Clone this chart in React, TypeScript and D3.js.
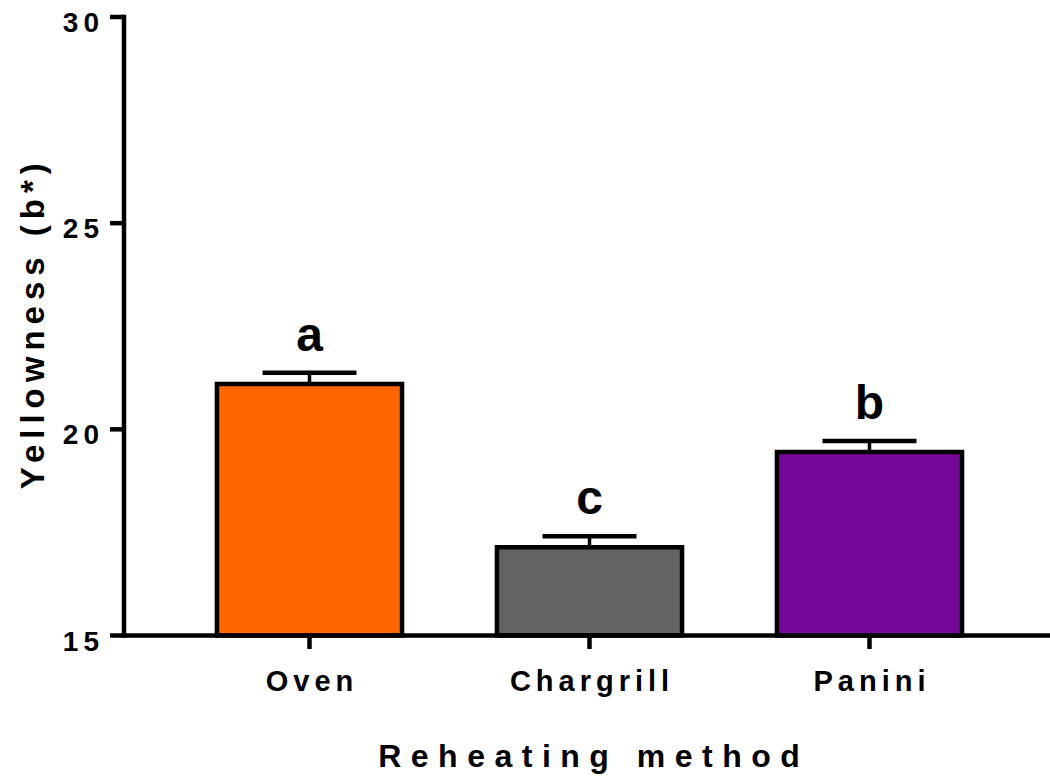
import React, { useEffect, useRef } from 'react';
import * as d3 from 'd3';

const categories = ['Oven', 'Chargrill', 'Panini'];
const means = [21.1, 17.14, 19.45];
const sems = [0.27, 0.27, 0.27];
const letters = ['a', 'c', 'b'];
const barColors = ['#FF6600', '#636363', '#76099A'];
const yTicks = [15, 20, 25, 30];

const FONT = "'Liberation Sans', Arial, sans-serif";

export default function App() {
  const ref = useRef<SVGSVGElement | null>(null);

  useEffect(() => {
    const width = 1050;
    const height = 784;
    const left = 124;
    const bottom = 635.5;
    const top = 17;

    const svg = d3.select(ref.current);
    svg.selectAll('*').remove();
    svg.attr('width', width).attr('height', height);

    const x = d3.scaleBand<string>()
      .domain(categories)
      .range([left, 1055])
      .paddingInner(0.339)
      .paddingOuter(0.332);

    const y = d3.scaleLinear().domain([15, 30]).range([bottom, top]);

    const data = categories.map((c, i) => ({
      name: c, mean: means[i], sem: sems[i], letter: letters[i], color: barColors[i]
    }));

    // bars
    svg.append('g')
      .selectAll('rect')
      .data(data)
      .enter()
      .append('rect')
      .attr('x', d => x(d.name)!)
      .attr('y', d => y(d.mean))
      .attr('width', x.bandwidth())
      .attr('height', d => y(15) - y(d.mean))
      .attr('fill', d => d.color)
      .attr('stroke', '#000')
      .attr('stroke-width', 4.5);

    // error bars (mean + SEM)
    const err = svg.append('g').selectAll('g').data(data).enter().append('g');
    err.append('line')
      .attr('x1', d => x(d.name)! + x.bandwidth() / 2)
      .attr('x2', d => x(d.name)! + x.bandwidth() / 2)
      .attr('y1', d => y(d.mean))
      .attr('y2', d => y(d.mean + d.sem))
      .attr('stroke', '#000')
      .attr('stroke-width', 3.5);
    err.append('line')
      .attr('x1', d => x(d.name)! + x.bandwidth() / 2 - 47)
      .attr('x2', d => x(d.name)! + x.bandwidth() / 2 + 47)
      .attr('y1', d => y(d.mean + d.sem))
      .attr('y2', d => y(d.mean + d.sem))
      .attr('stroke', '#000')
      .attr('stroke-width', 4.5);

    // significance letters
    svg.append('g')
      .selectAll('text')
      .data(data)
      .enter()
      .append('text')
      .attr('x', d => x(d.name)! + x.bandwidth() / 2)
      .attr('y', d => y(d.mean + d.sem) - 22)
      .attr('text-anchor', 'middle')
      .style('font-family', FONT)
      .style('font-weight', '700')
      .style('font-size', '48px')
      .text(d => d.letter);

    // y axis
    const ya = svg.append('g');
    ya.append('line')
      .attr('x1', left).attr('x2', left)
      .attr('y1', top - 2.25).attr('y2', bottom + 2.25)
      .attr('stroke', '#000').attr('stroke-width', 4.5);
    ya.selectAll('.tick')
      .data(yTicks)
      .enter()
      .append('line')
      .attr('x1', 110).attr('x2', left)
      .attr('y1', d => y(d)).attr('y2', d => y(d))
      .attr('stroke', '#000').attr('stroke-width', 4.5);
    ya.selectAll('text')
      .data(yTicks)
      .enter()
      .append('text')
      .attr('x', 104)
      .attr('y', d => y(d) + 15)
      .attr('text-anchor', 'end')
      .style('font-family', FONT)
      .style('font-weight', '700')
      .style('font-size', '28px')
      .style('letter-spacing', '5px')
      .text(d => d);

    // x axis
    const xa = svg.append('g');
    xa.append('line')
      .attr('x1', left).attr('x2', width)
      .attr('y1', bottom).attr('y2', bottom)
      .attr('stroke', '#000').attr('stroke-width', 4.5);
    xa.selectAll('.tick')
      .data(categories)
      .enter()
      .append('line')
      .attr('x1', d => x(d)! + x.bandwidth() / 2)
      .attr('x2', d => x(d)! + x.bandwidth() / 2)
      .attr('y1', bottom).attr('y2', 649)
      .attr('stroke', '#000').attr('stroke-width', 4.5);
    xa.selectAll('text')
      .data(categories)
      .enter()
      .append('text')
      .attr('x', d => x(d)! + x.bandwidth() / 2 + 2.5)
      .attr('y', 691)
      .attr('text-anchor', 'middle')
      .style('font-family', FONT)
      .style('font-weight', '700')
      .style('font-size', '29px')
      .style('letter-spacing', '5px')
      .text(d => d);

    // axis titles
    svg.append('text')
      .attr('x', 589 + 4.75)
      .attr('y', 767)
      .attr('text-anchor', 'middle')
      .style('font-family', FONT)
      .style('font-weight', '700')
      .style('font-size', '32px')
      .style('letter-spacing', '9.5px')
      .text('Reheating method');

    svg.append('text')
      .attr('transform', `translate(44,${(top + bottom) / 2 - 3}) rotate(-90)`)
      .attr('text-anchor', 'middle')
      .style('font-family', FONT)
      .style('font-weight', '700')
      .style('font-size', '33px')
      .style('letter-spacing', '6px')
      .text('Yellowness (b*)');
  }, []);

  return (
    <svg ref={ref} style={{ position: 'absolute', left: 0, top: 0, background: '#fff' }} />
  );
}
